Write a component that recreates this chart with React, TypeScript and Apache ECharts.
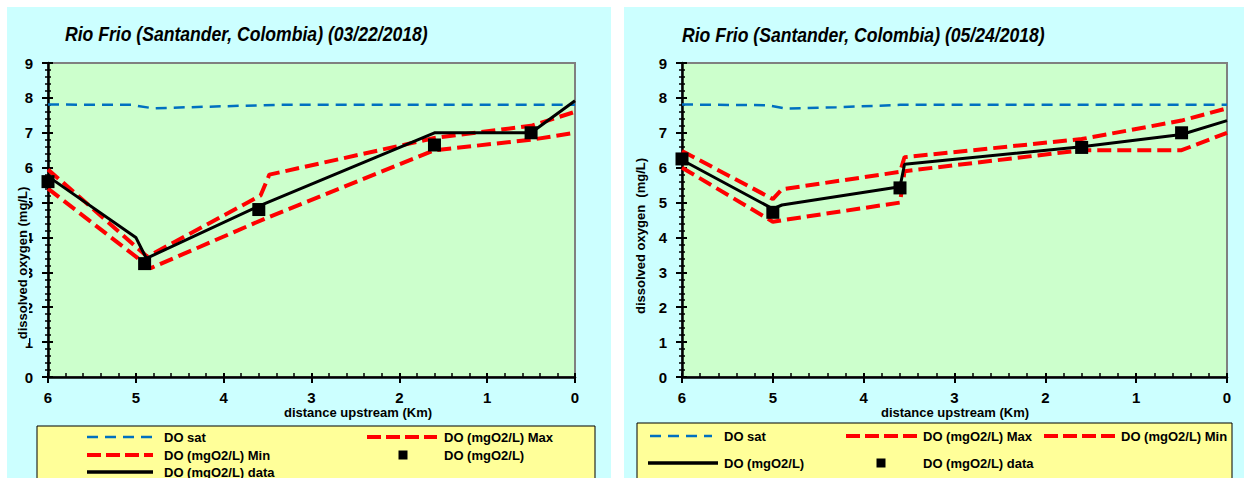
import React, { useEffect, useRef } from "react";
import * as echarts from "echarts";

// ---------- data (distance upstream km, dissolved oxygen mg/L) ----------
const xTicks = [0, 1, 2, 3, 4, 5, 6];

const leftTitle = "Rio Frio (Santander, Colombia) (03/22/2018)";
const leftSat = [[6, 7.81], [5.05, 7.8], [4.8, 7.7], [4.3, 7.74], [3.4, 7.8], [0, 7.8]];
const leftMax = [[6, 5.95], [4.87, 3.45], [3.58, 5.2], [3.48, 5.8], [1.6, 6.85], [0.5, 7.2], [0, 7.6]];
const leftMin = [[6, 5.4], [4.83, 3.12], [3.52, 4.55], [1.6, 6.5], [0.5, 6.8], [0, 7.0]];
const leftLine = [[6, 5.75], [5.0, 4.0], [4.88, 3.4], [3.58, 4.92], [1.6, 7.0], [0.5, 7.0], [0, 7.92]];
const leftPoints = [[6, 5.6], [4.9, 3.25], [3.6, 4.8], [1.6, 6.65], [0.5, 7.0]];

const rightTitle = "Rio Frio (Santander, Colombia) (05/24/2018)";
const rightSat = [[6, 7.81], [5.05, 7.79], [4.85, 7.69], [4.3, 7.73], [3.6, 7.8], [0, 7.8]];
const rightMax = [[6, 6.48], [5.0, 5.1], [4.9, 5.38], [3.6, 5.88], [3.55, 6.3], [1.6, 6.82], [0.5, 7.35], [0, 7.7]];
const rightMin = [[6, 6.0], [5.0, 4.45], [4.88, 4.5], [3.6, 5.0], [3.55, 5.9], [1.6, 6.5], [0.5, 6.5], [0, 7.0]];
const rightLine = [[6, 6.22], [5.0, 4.82], [4.9, 4.93], [3.6, 5.45], [3.55, 6.1], [1.6, 6.6], [0.5, 6.95], [0, 7.35]];
const rightPoints = [[6, 6.25], [5.0, 4.72], [3.6, 5.42], [1.6, 6.58], [0.5, 7.0]];

const FONT = 'Arial, "Liberation Sans", sans-serif';
const RED = "#FF0000";
const BLUE = "#0070C0";

function axisPair(dir: "x" | "y") {
  const isX = dir === "x";
  const common: any = {
    type: "value",
    min: 0,
    max: isX ? 6 : 9,
    interval: 1,
    inverse: isX,
    position: isX ? "bottom" : "left",
    splitLine: { show: false },
  };
  const primary = {
    ...common,
    axisLine: { show: true, onZero: false, lineStyle: { color: "#000", width: 2.5 } },
    axisTick: { show: true, inside: false, length: 6, lineStyle: { color: "#000", width: 2 } },
    minorTick: isX
      ? { show: false }
      : { show: true, splitNumber: 5, length: 3, lineStyle: { color: "#000", width: 1.5 } },
    axisLabel: {
      fontSize: 15,
      fontWeight: "bold",
      color: "#000",
      fontFamily: FONT,
      margin: isX ? 13 : 15,
      formatter: (v: number) => (xTicks.includes(v) || !isX ? String(v) : ""),
    },
  };
  const overlay = {
    ...common,
    axisLine: { show: false, onZero: false },
    axisTick: { show: true, inside: true, length: isX ? 4 : 5, lineStyle: { color: "#000", width: 2 } },
    minorTick: { show: true, splitNumber: 5, length: isX ? 4 : 3, lineStyle: { color: "#000", width: 1.5 } },
    axisLabel: { show: false },
  };
  return [primary, overlay];
}

function txt(text: string, x: number, y: number, extra: any = {}) {
  return {
    type: "text",
    x,
    y,
    z: 100,
    style: {
      text,
      fill: "#000",
      fontSize: 13,
      fontWeight: "bold",
      fontFamily: FONT,
      align: "left",
      textAlign: "left",
      verticalAlign: "middle",
      textVerticalAlign: "middle",
      ...extra,
    },
  };
}

function legLine(x1: number, x2: number, y: number, kind: "sat" | "red" | "black") {
  const style: any =
    kind === "sat"
      ? { stroke: BLUE, lineWidth: 2.5, lineDash: [11, 7] }
      : kind === "red"
      ? { stroke: RED, lineWidth: 4, lineDash: [14, 5] }
      : { stroke: "#000", lineWidth: 3.5 };
  return { type: "line", z: 100, shape: { x1, y1: y, x2, y2: y }, style };
}

function legSquare(cx: number, cy: number) {
  return { type: "rect", z: 100, shape: { x: cx - 4.5, y: cy - 4.5, width: 9, height: 9 }, style: { fill: "#000" } };
}

function buildOption(p: any) {
  const [x0, x1] = axisPair("x");
  const [y0, y1] = axisPair("y");
  const lineSeries = (name: string, data: number[][], lineStyle: any) => ({
    name,
    type: "line",
    data,
    symbol: "none",
    lineStyle,
    xAxisIndex: 0,
    yAxisIndex: 0,
    z: 3,
  });
  return {
    animation: false,
    backgroundColor: "#CCFFFF",
    grid: {
      left: p.gridLeft,
      top: 56,
      width: p.gridWidth,
      height: 314,
      show: true,
      backgroundColor: "#CCFFCC",
      borderColor: "#808080",
      borderWidth: 2,
    },
    xAxis: [x0, x1],
    yAxis: [y0, y1],
    series: [
      lineSeries("DO sat", p.sat, { color: BLUE, width: 2.5, type: [11, 7] }),
      lineSeries("DO (mgO2/L) Max", p.max, { color: RED, width: 4, type: [14, 6] }),
      lineSeries("DO (mgO2/L) Min", p.min, { color: RED, width: 4, type: [14, 6] }),
      lineSeries(p.lineName, p.line, { color: "#000", width: 3, type: "solid" }),
      {
        name: p.pointName,
        type: "scatter",
        data: p.points,
        symbol: "rect",
        symbolSize: 13,
        itemStyle: { color: "#000", opacity: 1 },
        z: 4,
      },
    ],
    graphic: { elements: p.graphics },
  };
}

const leftGraphics = [
  { type: "text", x: 58, y: 27, scaleX: 0.88, z: 100,
    style: { text: leftTitle, fill: "#000", fontSize: 20, fontWeight: "bold", fontStyle: "italic", fontFamily: FONT,
      align: "left", textAlign: "left", verticalAlign: "middle", textVerticalAlign: "middle" } },
  { type: "rect", z: 99, shape: { x: 7, y: 176, width: 15, height: 160 }, style: { fill: "#CCFFFF" } },
  txt("dissolved oxygen (mg/L)", 15, 256, { align: "center", textAlign: "center" }),
  txt("distance upstream (Km)", 351, 405, { align: "center", textAlign: "center" }),
  { type: "rect", z: 90, shape: { x: 30, y: 419, width: 558, height: 80 }, style: { fill: "#FFFF99", stroke: "#000", lineWidth: 1 } },
  legLine(80, 146, 430, "sat"),
  txt("DO sat", 157, 430),
  legLine(360, 430, 430, "red"),
  txt("DO (mgO2/L) Max", 437, 430),
  legLine(80, 146, 448, "red"),
  txt("DO (mgO2/L) Min", 157, 448),
  legSquare(396, 448),
  txt("DO (mgO2/L)", 437, 448),
  legLine(80, 146, 465, "black"),
  txt("DO (mgO2/L) data", 157, 465),
];
leftGraphics[2] = { ...leftGraphics[2], rotation: Math.PI / 2 } as any;

const rightGraphics = [
  { type: "text", x: 58, y: 28, scaleX: 0.88, z: 100,
    style: { text: rightTitle, fill: "#000", fontSize: 20, fontWeight: "bold", fontStyle: "italic", fontFamily: FONT,
      align: "left", textAlign: "left", verticalAlign: "middle", textVerticalAlign: "middle" } },
  { ...txt("dissolved oxygen  (mg/L)", 16, 229, { align: "center", textAlign: "center" }), rotation: Math.PI / 2 },
  txt("distance upstream (Km)", 331, 405, { align: "center", textAlign: "center" }),
  { type: "rect", z: 90, shape: { x: 13, y: 416, width: 595, height: 80 }, style: { fill: "#FFFF99", stroke: "#000", lineWidth: 1 } },
  legLine(26, 88, 429, "sat"),
  txt("DO sat", 100, 429),
  legLine(222, 293, 429, "red"),
  txt("DO (mgO2/L) Max", 299, 429),
  legLine(420, 492, 429, "red"),
  txt("DO (mgO2/L) Min", 497, 429),
  legLine(24, 94, 456, "black"),
  txt("DO (mgO2/L)", 100, 456),
  legSquare(257, 456),
  txt("DO (mgO2/L) data", 299, 456),
];

const leftPanel = {
  gridLeft: 41, gridWidth: 527, sat: leftSat, max: leftMax, min: leftMin,
  line: leftLine, lineName: "DO (mgO2/L) data", points: leftPoints, pointName: "DO (mgO2/L)", graphics: leftGraphics,
};
const rightPanel = {
  gridLeft: 58, gridWidth: 545, sat: rightSat, max: rightMax, min: rightMin,
  line: rightLine, lineName: "DO (mgO2/L)", points: rightPoints, pointName: "DO (mgO2/L) data", graphics: rightGraphics,
};

function Chart({ panel, style }: { panel: any; style: React.CSSProperties }) {
  const ref = useRef<HTMLDivElement>(null);
  useEffect(() => {
    if (!ref.current) return;
    const chart = echarts.init(ref.current, undefined, { renderer: "svg" });
    chart.setOption(buildOption(panel));
    return () => chart.dispose();
  }, [panel]);
  return <div ref={ref} style={style} />;
}

export default function App() {
  return (
    <div style={{ position: "absolute", left: 0, top: 0, width: 1244, height: 478, background: "#fff", overflow: "hidden" }}>
      <Chart panel={leftPanel} style={{ position: "absolute", left: 7, top: 7, width: 604, height: 471 }} />
      <Chart panel={rightPanel} style={{ position: "absolute", left: 624, top: 7, width: 620, height: 471 }} />
    </div>
  );
}
